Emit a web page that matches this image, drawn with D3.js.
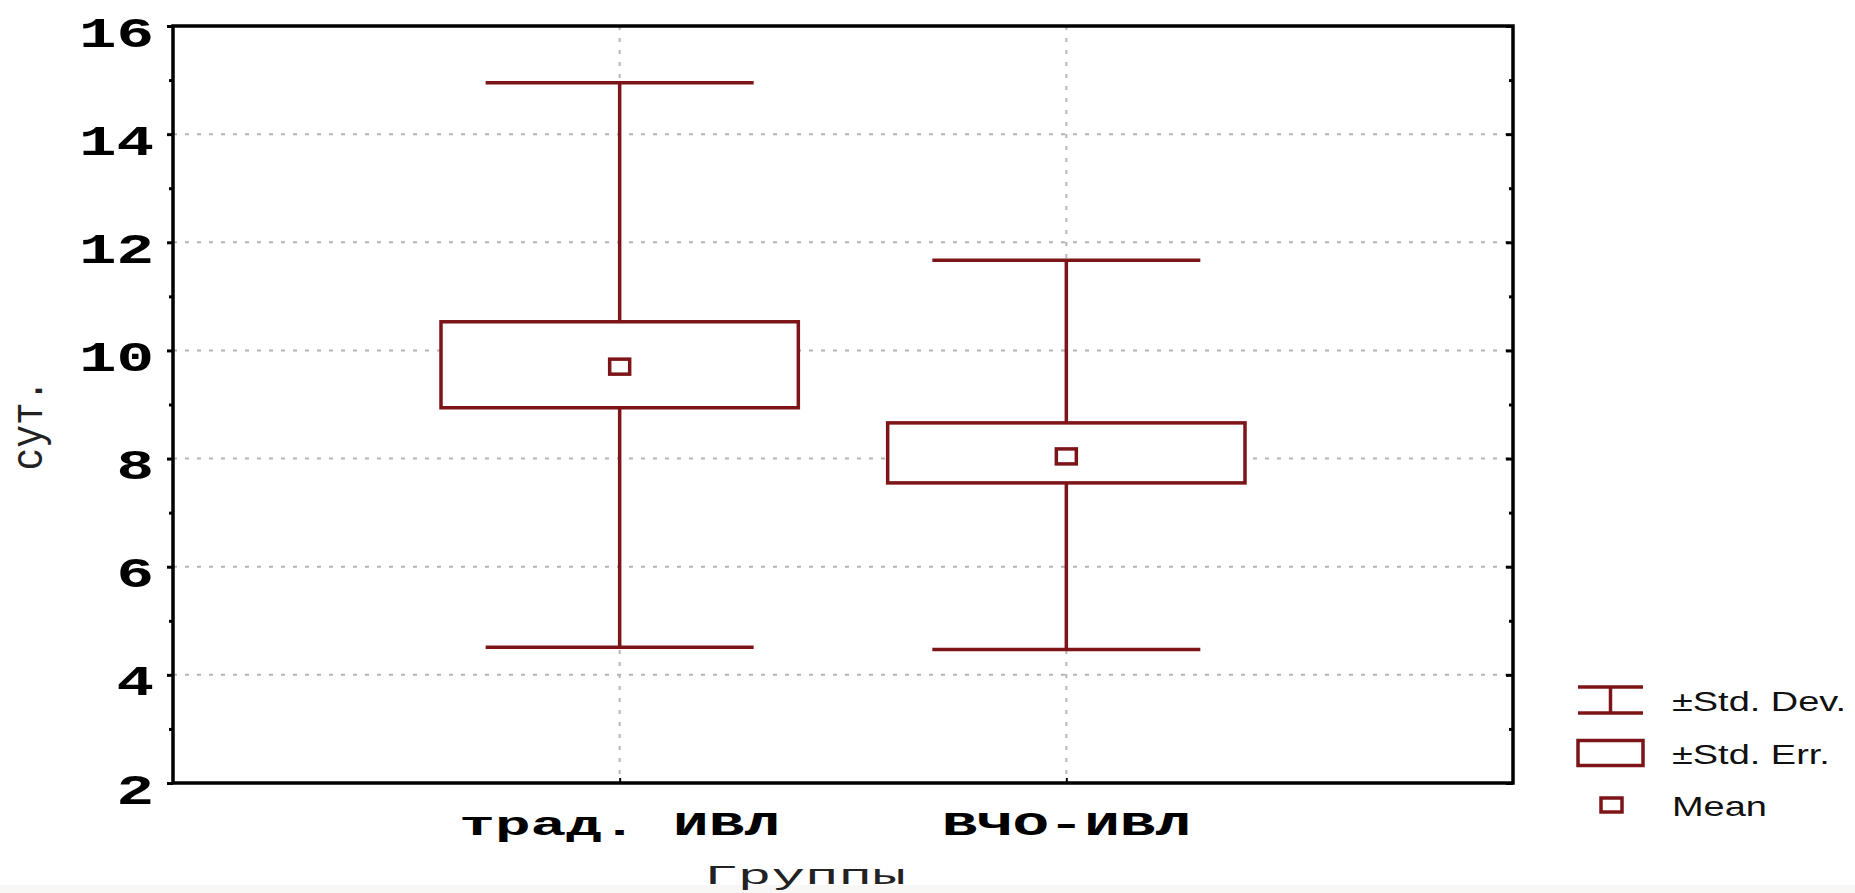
<!DOCTYPE html>
<html>
<head>
<meta charset="utf-8">
<script src="https://cdn.jsdelivr.net/npm/d3@7"></script>
<style>
  body { margin: 0; background: #fff; }
  svg { display: block; }
  .mono { font-family: 'Courier New', 'Liberation Mono', monospace; }
  .sans { font-family: Arial, 'Liberation Sans', sans-serif; }
</style>
</head>
<body>
<div class="chart"></div>
<script>
var groups = ['трад. ИВЛ', 'ВЧО-ИВЛ'];
var means = [9.70, 8.04];
var seLow = [8.94, 7.55];
var seHigh = [10.53, 8.66];
var sdLow = [4.51, 4.47];
var sdHigh = [14.95, 11.67];
var yTicks = [2, 4, 6, 8, 10, 12, 14, 16];
var yMinor = [3, 5, 7, 9, 11, 13, 15];
var legendLabels = ['±Std. Dev.', '±Std. Err.', 'Mean'];

var width = 1855,
  height = 893;
var plotL = 173,
  plotR = 1513,
  plotT = 26,
  plotB = 783;
var red = '#7d1418';
var lw = 3.5;

var svg = d3
  .select('.chart')
  .append('svg')
  .attr('width', width)
  .attr('height', height);

svg.append('rect').attr('x', 0).attr('y', 885).attr('width', width).attr('height', 8).attr('fill', '#f9f6f6');

var y = d3.scaleLinear().domain([2, 16]).range([plotB, plotT]);
var x = d3.scalePoint().domain(groups).range([plotL, plotR]).padding(1);
var step = x.step();

// grid
svg
  .append('g')
  .selectAll('line')
  .data(yTicks.filter((d) => d > 2 && d < 16))
  .enter()
  .append('line')
  .attr('x1', plotL)
  .attr('x2', plotR)
  .attr('y1', (d) => y(d))
  .attr('y2', (d) => y(d))
  .attr('stroke', '#b4b4b4')
  .attr('stroke-width', 2)
  .attr('stroke-dasharray', '4,8');

svg
  .append('g')
  .selectAll('line')
  .data(groups)
  .enter()
  .append('line')
  .attr('x1', (d) => x(d))
  .attr('x2', (d) => x(d))
  .attr('y1', plotT)
  .attr('y2', plotB)
  .attr('stroke', '#b4b4b4')
  .attr('stroke-width', 2)
  .attr('stroke-dasharray', '4,8');

// left axis
var yAxis = d3.axisLeft(y).tickValues(yTicks).tickSize(6).tickFormat(d3.format('d'));
var gy = svg.append('g').attr('transform', 'translate(' + plotL + ',0)').call(yAxis);
gy.select('.domain').remove();
gy.selectAll('line').attr('stroke', '#000').attr('stroke-width', 3);
gy.selectAll('text')
  .attr('class', 'mono')
  .attr('x', null)
  .attr('dy', null)
  .attr('transform', 'translate(-19,20) scale(1.49,1)')
  .attr('text-anchor', 'end')
  .style('font-size', '42px')
  .style('font-weight', 'bold')
  .attr('fill', '#000');

var gyMinor = svg
  .append('g')
  .attr('transform', 'translate(' + plotL + ',0)')
  .call(d3.axisLeft(y).tickValues(yMinor).tickSize(4).tickFormat(''));
gyMinor.select('.domain').remove();
gyMinor.selectAll('line').attr('stroke', '#000').attr('stroke-width', 3);

// right axis ticks (inward)
var gr = svg
  .append('g')
  .attr('transform', 'translate(' + plotR + ',0)')
  .call(d3.axisLeft(y).tickValues(yTicks).tickSize(7).tickFormat(''));
gr.select('.domain').remove();
gr.selectAll('line').attr('stroke', '#000').attr('stroke-width', 3);
var grm = svg
  .append('g')
  .attr('transform', 'translate(' + plotR + ',0)')
  .call(d3.axisLeft(y).tickValues(yMinor).tickSize(4).tickFormat(''));
grm.select('.domain').remove();
grm.selectAll('line').attr('stroke', '#000').attr('stroke-width', 3);

// bottom axis
var xAxis = d3.axisTop(x).tickSize(5).tickFormat('');
var gx = svg.append('g').attr('transform', 'translate(0,' + plotB + ')').call(xAxis);
gx.select('.domain').remove();
gx.selectAll('line').attr('stroke', '#000').attr('stroke-width', 2);

svg
  .append('g')
  .selectAll('text')
  .data(groups)
  .enter()
  .append('text')
  .attr('class', 'mono')
  .attr('transform', (d) => 'translate(' + x(d) + ',835) scale(1.8,1)')
  .attr('text-anchor', 'middle')
  .style('font-size', '33px')
  .style('font-weight', 'bold')
  .text((d) => d);

// frame
svg
  .append('rect')
  .attr('x', plotL)
  .attr('y', plotT)
  .attr('width', plotR - plotL)
  .attr('height', plotB - plotT)
  .attr('fill', 'none')
  .attr('stroke', '#000')
  .attr('stroke-width', 3.5);

// axis titles
svg
  .append('text')
  .attr('class', 'mono')
  .attr('transform', 'translate(805,884) scale(2,1)')
  .attr('text-anchor', 'middle')
  .style('font-size', '28px')
  .attr('fill', '#222')
  .text('Группы');

svg
  .append('text')
  .attr('class', 'mono')
  .attr('transform', 'translate(42,425) scale(1.15,1) rotate(-90)')
  .attr('text-anchor', 'middle')
  .style('font-size', '38px')
  .attr('fill', '#222')
  .text('сут.');

// whiskers and boxes
var capW = step * 0.6,
  boxW = step * 0.8;
var marks = svg.append('g').selectAll('g').data(groups).enter().append('g');

marks
  .append('line')
  .attr('x1', (d) => x(d))
  .attr('x2', (d) => x(d))
  .attr('y1', (d, i) => y(sdLow[i]))
  .attr('y2', (d, i) => y(sdHigh[i]))
  .attr('stroke', red)
  .attr('stroke-width', lw);

[sdLow, sdHigh].forEach(function (arr) {
  marks
    .append('line')
    .attr('x1', (d) => x(d) - capW / 2)
    .attr('x2', (d) => x(d) + capW / 2)
    .attr('y1', (d, i) => y(arr[i]))
    .attr('y2', (d, i) => y(arr[i]))
    .attr('stroke', red)
    .attr('stroke-width', lw);
});

marks
  .append('rect')
  .attr('x', (d) => x(d) - boxW / 2)
  .attr('y', (d, i) => y(seHigh[i]))
  .attr('width', boxW)
  .attr('height', (d, i) => y(seLow[i]) - y(seHigh[i]))
  .attr('fill', '#fff')
  .attr('stroke', red)
  .attr('stroke-width', lw);

marks
  .append('rect')
  .attr('x', (d) => x(d) - 10)
  .attr('y', (d, i) => y(means[i]) - 7.5)
  .attr('width', 20)
  .attr('height', 15)
  .attr('fill', '#fff')
  .attr('stroke', red)
  .attr('stroke-width', lw);

// legend
var legend = svg.append('g').attr('transform', 'translate(1578,700)');
var rows = legend
  .selectAll('g')
  .data(legendLabels)
  .enter()
  .append('g')
  .attr('transform', (d, i) => 'translate(0,' + i * 52.5 + ')');

rows
  .append('text')
  .attr('class', 'sans')
  .attr('transform', 'translate(94,11) scale(1.38,1)')
  .style('font-size', '27.5px')
  .attr('fill', '#111')
  .text((d) => d);

var r0 = d3.select(rows.nodes()[0]);
r0.append('line').attr('x1', 0).attr('x2', 65).attr('y1', -13).attr('y2', -13).attr('stroke', red).attr('stroke-width', lw);
r0.append('line').attr('x1', 0).attr('x2', 65).attr('y1', 13).attr('y2', 13).attr('stroke', red).attr('stroke-width', lw);
r0.append('line').attr('x1', 32.5).attr('x2', 32.5).attr('y1', -13).attr('y2', 13).attr('stroke', red).attr('stroke-width', lw);

var r1 = d3.select(rows.nodes()[1]);
r1.append('rect').attr('x', 0).attr('y', -12).attr('width', 65).attr('height', 25).attr('fill', '#fff').attr('stroke', red).attr('stroke-width', lw);

var r2 = d3.select(rows.nodes()[2]);
r2.append('rect').attr('x', 23).attr('y', -7).attr('width', 21).attr('height', 14).attr('fill', '#fff').attr('stroke', red).attr('stroke-width', lw);
</script>
</body>
</html>
